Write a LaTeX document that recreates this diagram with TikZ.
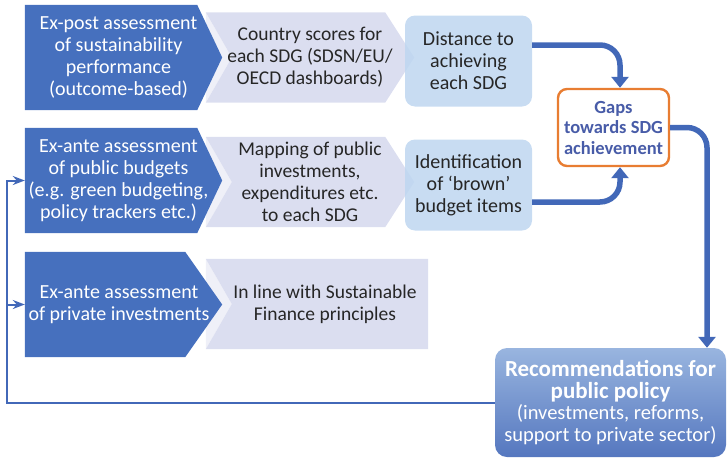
\documentclass[tikz,border=0pt]{standalone}
\usepackage{fontspec}
\setmainfont{Carlito}
\usetikzlibrary{arrows.meta, backgrounds, calc}

\definecolor{assessblue}{RGB}{70,112,190}
\definecolor{lavender}{RGB}{219,222,240}
\definecolor{paleblue}{RGB}{190,214,240}
\definecolor{flowblue}{RGB}{66,104,184}
\definecolor{gapsorange}{RGB}{232,125,50}
\definecolor{gapstext}{RGB}{72,92,168}

\begin{document}
\begin{tikzpicture}[
    x=1pt, y=-1pt,
    >=Stealth,
    assess node/.style={text=white, align=center, inner sep=0pt,
        minimum width=187pt, minimum height=105pt,
        font=\fontsize{20}{22}\selectfont},
    source node/.style={text=black!85, align=center, inner sep=0pt,
        minimum width=208pt, minimum height=90pt,
        font=\fontsize{19.5}{22}\selectfont},
    result node/.style={rounded corners=10pt, fill=paleblue,
        fill opacity=0.85, text opacity=1, text=black!85, align=center,
        minimum width=127pt, minimum height=91pt,
        font=\fontsize{20}{22}\selectfont},
    gaps node/.style={draw=gapsorange, line width=2.4pt, rounded corners=9pt,
        fill=white, text=gapstext, align=center,
        minimum width=111pt, minimum height=77pt,
        font=\fontsize{18.5}{20.5}\selectfont\bfseries},
    policy node/.style={rounded corners=12pt, top color=paleblue!70!flowblue,
        bottom color=flowblue!90!white, text=white, align=center,
        minimum width=231pt, minimum height=109pt,
        font=\fontsize{20.5}{21.5}\selectfont},
    flow/.style={line width=5.5pt, draw=flowblue, rounded corners=20pt,
        -{Triangle[width=17pt,length=11pt]}},
    feedback/.style={line width=2pt, draw=flowblue, ->}
]
\useasboundingbox (0,0) rectangle (728,458);

% Data sources behind each assessment
\node[source node] (scores) at (310,57.5)
    {Country scores for\\each SDG (SDSN/EU/\\OECD dashboards)};
\node[source node] (mapping) at (310,182)
    {Mapping of public\\investments,\\expenditures etc.\\to each SDG};
\node[source node, minimum width=206pt] (finance) at (325,304)
    {In line with Sustainable\\Finance principles};

% Assessment types
\node[assess node] (post) at (118.5,57.5)
    {Ex-post assessment\\of sustainability\\performance\\(outcome-based)};
\node[assess node] (ante) at (118.5,180.5)
    {Ex-ante assessment\\of public budgets\\(e.g. green budgeting,\\policy trackers etc.)};
\node[assess node, minimum width=188pt] (priv) at (119,304.5)
    {Ex-ante assessment\\of private investments};

% Chevron and arrow shapes behind the texts
\begin{scope}[on background layer]
    \foreach \n in {scores, mapping} {
        \fill[lavender!45] (\n.north west) -- ([xshift=26pt]\n.west)
            -- (\n.south west) -- cycle;
        \fill[lavender] (\n.north west) -- ([xshift=-29pt]\n.north east)
            -- (\n.east) -- ([xshift=-29pt]\n.south east) -- (\n.south west)
            -- ([xshift=26pt]\n.west) -- cycle;
    }
    \fill[lavender!45] ([xshift=-16pt]finance.north west)
        -- ([xshift=10pt]finance.west) -- ([xshift=-16pt]finance.south west) -- cycle;
    \fill[lavender] ([xshift=-16pt]finance.north west) -- (finance.north east)
        -- (finance.south east) -- ([xshift=-16pt]finance.south west)
        -- ([xshift=10pt]finance.west) -- cycle;
    \foreach \n in {post, ante}
        \fill[assessblue] (\n.north west) -- ([xshift=-15pt]\n.north east)
            -- ([xshift=10pt]\n.east) -- ([xshift=-15pt]\n.south east)
            -- (\n.south west) -- cycle;
    \fill[assessblue] (priv.north west) -- ([xshift=-28pt]priv.north east)
        -- ([xshift=9pt]priv.east) -- ([xshift=-28pt]priv.south east)
        -- (priv.south west) -- cycle;
\end{scope}

% Results
\node[result node] (dist) at (468.5,61) {Distance to\\achieving\\each SDG};
\node[result node] (ident) at (468.5,185) {Identification\\of `brown'\\budget items};

% Gaps and recommendations
\node[gaps node] (gaps) at (613.5,127.5) {Gaps\\towards SDG\\achievement};
\node[policy node] (rec) at (610.5,402.5)
    {{\fontsize{23}{21.5}\selectfont\bfseries Recommendations for}\\
     {\fontsize{23}{21.5}\selectfont\bfseries public policy}\\
     (investments, reforms,\\support to private sector)};

% Thick flows
\draw[flow] ([yshift=16pt]dist.east) -| ([xshift=6.5pt]gaps.north);
\draw[flow] ([yshift=-17pt]ident.east) -| ([xshift=6.5pt]gaps.south);
\draw[flow] (gaps.east) -| ([xshift=96.5pt]rec.north);

% Feedback loop
\draw[feedback] (rec.west) -| ([xshift=-18pt]ante.west) -- (ante.west);
\draw[feedback] ([xshift=-18pt]priv.west) -- (priv.west);

\end{tikzpicture}
\end{document}
